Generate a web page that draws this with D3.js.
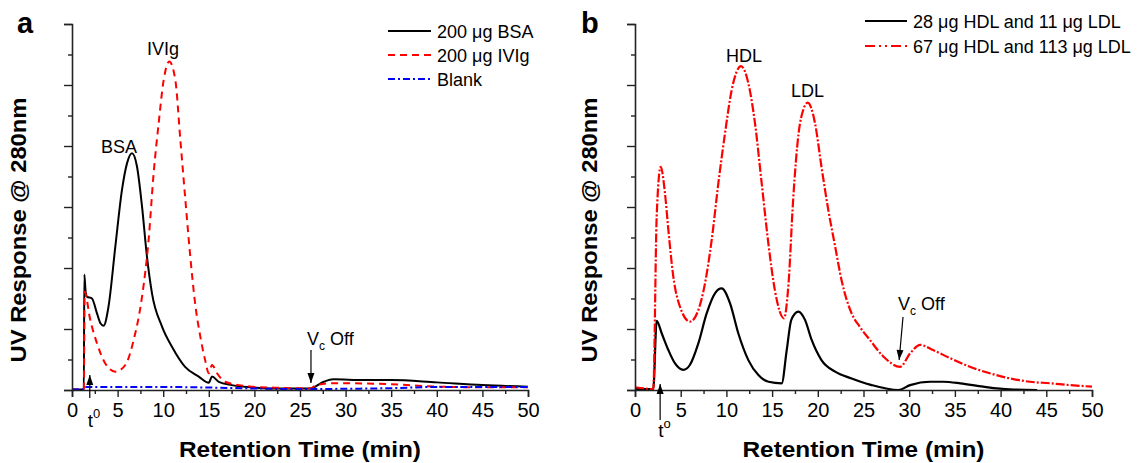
<!DOCTYPE html>
<html><head><meta charset="utf-8">
<script src="https://cdn.jsdelivr.net/npm/d3@7"></script>
<style>
body{margin:0;background:#fff;}
text{font-family:Arial,"Liberation Sans",Helvetica,sans-serif;fill:#000;}
</style></head>
<body>
<svg id="chart" width="1148" height="463"></svg>
<script>
// ---------- DATA ----------
const xTicks = [0,5,10,15,20,25,30,35,40,45,50];
const yMajor = [0,2,4,6,8,10,12];

// Panel a: [time (min), response]
const bsa = [[0,0.02],[1.3,0.02],[1.35,3.79],[1.5,3.2],[1.64,3.06],[2.19,3.0],[2.74,2.51],[3.1,2.2],[3.47,2.11],[4.0,2.73],[4.75,4.7],[5.48,6.56],[6.03,7.43],[6.58,7.76],[7.13,7.32],[7.68,6.01],[8.22,4.37],[8.77,3.17],[9.87,2.08],[10.96,1.42],[12.4,0.76],[13.9,0.44],[15.0,0.24],[15.35,0.44],[16.1,0.27],[17.5,0.16],[19.7,0.09],[22,0.05],[26.1,0.05],[27.6,0.27],[28.65,0.35],[32,0.33],[35,0.33],[40,0.25],[45,0.16],[50,0.11]];
const ivig = [[0,0.02],[1.3,0.02],[1.38,3.22],[2.0,2.3],[2.74,1.53],[3.65,0.87],[4.75,0.6],[5.85,0.82],[6.76,1.64],[7.68,3.06],[8.4,4.92],[8.95,7.1],[9.5,8.74],[10.05,10.16],[10.67,10.77],[11.33,10.16],[11.88,8.2],[12.43,6.23],[12.97,4.37],[13.5,2.84],[14.07,1.75],[14.6,0.98],[15.0,0.55],[15.35,0.82],[15.9,0.55],[16.8,0.27],[18.3,0.16],[19.7,0.11],[23,0.07],[26.1,0.05],[26.8,0.16],[28.5,0.22],[30,0.22],[35,0.19],[40,0.11],[45,0.09],[50,0.09]];
const blank = [[0,0.02],[1.3,0.02],[1.4,0.1],[5,0.1],[10,0.1],[15,0.08],[20,0.05],[25,0.03],[30,0.04],[35,0.06],[40,0.1],[45,0.1],[50,0.1]];

// Panel b
const lowLip = [[0,0.03],[2.0,0.03],[2.37,2.27],[2.92,1.86],[3.65,1.31],[4.38,0.87],[5.29,0.66],[6.0,0.82],[6.93,1.53],[7.84,2.51],[8.75,3.17],[9.48,3.33],[10.4,2.84],[11.3,1.86],[12.4,0.98],[13.5,0.49],[14.6,0.27],[16.05,0.22],[16.6,1.31],[17.1,2.3],[17.87,2.57],[18.6,2.3],[19.33,1.64],[20.4,0.98],[21.9,0.6],[23.7,0.38],[25.8,0.17],[28.8,0.0],[30.1,0.16],[32.3,0.27],[33.7,0.27],[35.6,0.22],[38.1,0.11],[41,0.02],[44,0.0]];
const highLip = [[0,0.09],[1,0.05],[2.0,0.03],[2.37,5.68],[2.81,7.32],[3.28,6.45],[3.65,5.25],[4.19,3.72],[4.92,2.73],[6.02,2.24],[6.93,2.62],[7.66,3.5],[8.39,4.92],[9.12,6.78],[9.85,8.42],[10.58,9.84],[11.6,10.62],[12.4,10.06],[13.13,8.74],[13.86,6.78],[14.59,4.81],[15.3,3.28],[16.3,2.35],[16.8,3.5],[17.3,6.23],[17.9,8.42],[18.4,9.18],[18.9,9.42],[19.7,8.74],[20.4,7.32],[21.15,5.9],[21.9,4.7],[22.6,3.6],[23.7,2.51],[24.6,2.07],[25.7,1.64],[27.2,1.09],[29.0,0.76],[30.1,1.2],[31.2,1.48],[32.6,1.31],[34.5,1.04],[36.65,0.76],[38.8,0.55],[41,0.38],[43.2,0.27],[45.4,0.22],[47.6,0.16],[50,0.11]];

const legendA = ["200 \u03bcg BSA","200 \u03bcg IVIg","Blank"];
const legendB = ["28 \u03bcg HDL and 11 \u03bcg LDL","67 \u03bcg HDL and 113 \u03bcg LDL"];

// ---------- DRAW ----------
const svg = d3.select("#chart");

function panel(cfg){
  const g = svg.append("g");
  const x = d3.scaleLinear().domain([0,50]).range(cfg.xr);
  const y = d3.scaleLinear().domain([0,12]).range([390,24]);

  // series
  cfg.series.forEach(s=>{
    const line = d3.line().x(d=>x(d[0])).y(d=>y(d[1])).curve(d3.curveMonotoneX);
    g.append("path").datum(s.data).attr("d",line)
      .attr("fill","none").attr("stroke",s.color).attr("stroke-width",s.w||2)
      .attr("stroke-dasharray",s.dash||null).attr("stroke-linejoin","round");
  });

  // x axis
  const xa = d3.axisBottom(x).tickValues(xTicks).tickSize(7).tickFormat(d3.format("d"));
  const xg = g.append("g").attr("transform","translate(0,390)").call(xa);
  const xm = d3.axisBottom(x).tickValues(d3.range(2.5,50,5)).tickSize(4).tickFormat("");
  g.append("g").attr("transform","translate(0,390)").call(xm).select(".domain").remove();
  xg.selectAll("text").attr("font-size",20).attr("dy","0.95em").attr("y",8)
    .style("font-family","Arial,'Liberation Sans',sans-serif");
  // y axis
  const ya = d3.axisLeft(y).tickValues(yMajor).tickSize(8).tickFormat("");
  g.append("g").attr("transform",`translate(${cfg.xr[0]},0)`).call(ya);
  const ym = d3.axisLeft(y).tickValues(d3.range(1,12,2)).tickSize(4).tickFormat("");
  g.append("g").attr("transform",`translate(${cfg.xr[0]},0)`).call(ym).select(".domain").remove();
  g.selectAll(".domain").attr("stroke","#222").attr("stroke-width",1.6);
  g.selectAll(".tick line").attr("stroke","#222").attr("stroke-width",1.4);

  // titles
  g.append("text").attr("x",(cfg.xr[0]+cfg.xr[1])/2).attr("y",457)
    .attr("text-anchor","middle").attr("font-size",22).attr("font-weight","bold")
    .attr("textLength",242).attr("lengthAdjust","spacingAndGlyphs")
    .text("Retention Time (min)");
  g.append("text").attr("transform",`translate(${cfg.ytx},230) rotate(-90)`)
    .attr("text-anchor","middle").attr("font-size",22).attr("font-weight","bold")
    .attr("textLength",265).attr("lengthAdjust","spacingAndGlyphs")
    .text("UV Response @ 280nm");
  g.append("text").attr("x",cfg.lab[0]).attr("y",cfg.lab[1]).attr("font-size",29)
    .attr("font-weight","bold").text(cfg.label);

  // legend
  cfg.legend.forEach((t,i)=>{
    const s = cfg.series[i];
    const yy = cfg.leg.y0 + i*cfg.leg.dy;
    g.append("line").attr("x1",cfg.leg.x1).attr("x2",cfg.leg.x2).attr("y1",yy).attr("y2",yy)
      .attr("stroke",s.color).attr("stroke-width",2).attr("stroke-dasharray",s.ldash||s.dash||null);
    g.append("text").attr("x",cfg.leg.tx).attr("y",yy+6.5).attr("font-size",18).text(t);
  });

  // peak annotations
  cfg.notes.forEach(n=>{
    g.append("text").attr("x",n[1]).attr("y",n[2]).attr("font-size",18).text(n[0]);
  });

  // t0 arrow
  const ah = (x0,y0,x1,y1)=>{
    g.append("line").attr("x1",x0).attr("y1",y0).attr("x2",x1).attr("y2",y1)
      .attr("stroke","#000").attr("stroke-width",1.2);
    const ang = Math.atan2(y1-y0,x1-x0);
    const L=10,W=3.5;
    const bx = x1-L*Math.cos(ang), by = y1-L*Math.sin(ang);
    g.append("path").attr("d",`M${x1},${y1}L${bx+W*Math.sin(ang)},${by-W*Math.cos(ang)}L${bx-W*Math.sin(ang)},${by+W*Math.cos(ang)}Z`)
      .attr("fill","#000");
  };
  const tx = x(cfg.t0);
  ah(tx,cfg.t0y[0],tx,cfg.t0y[1]);
  const tt = g.append("text").attr("x",tx-2).attr("y",cfg.t0y[2]).attr("font-size",19);
  tt.append("tspan").text("t");
  tt.append("tspan").attr("font-size",13).attr("dy",-9).text(cfg.t0sup);

  // Vc Off
  const vx = x(cfg.vc);
  ah(cfg.vcA[0],cfg.vcA[1],vx,cfg.vcA[2]);
  const vt = g.append("text").attr("x",cfg.vcT[0]).attr("y",cfg.vcT[1]).attr("font-size",18);
  vt.append("tspan").text("V");
  vt.append("tspan").attr("font-size",12).attr("dy",5).text("c");
  vt.append("tspan").attr("dy",-5).text(" Off");
}

panel({
  xr:[72,528], ytx:26, label:"a", lab:[17,33],
  series:[
    {data:bsa,color:"#000",w:2},
    {data:ivig,color:"#ff0000",w:2,dash:"7,5"},
    {data:blank,color:"#0000ff",w:2,dash:"7,3,2,3"}
  ],
  legend:legendA, leg:{x1:388,x2:431,tx:437,y0:31,dy:24},
  notes:[["IVIg",147,55],["BSA",101,153]],
  t0:1.95, t0y:[398,375,427], t0sup:"0",
  vc:26.2, vcA:[311,350,383], vcT:[307,345]
});
panel({
  xr:[635,1092], ytx:597, label:"b", lab:[581,33],
  series:[
    {data:lowLip,color:"#000",w:2.2},
    {data:highLip,color:"#ff0000",w:2.2,dash:"9,2,2,2",ldash:"10,4,2,4,2,4"}
  ],
  legend:legendB, leg:{x1:865,x2:907,tx:913,y0:21,dy:25},
  notes:[["HDL",726,62],["LDL",791,97]],
  t0:2.75, t0y:[420,384,437], t0sup:"o",
  vc:28.9, vcA:[903,317,360], vcT:[898,310]
});
</script>
</body></html>
